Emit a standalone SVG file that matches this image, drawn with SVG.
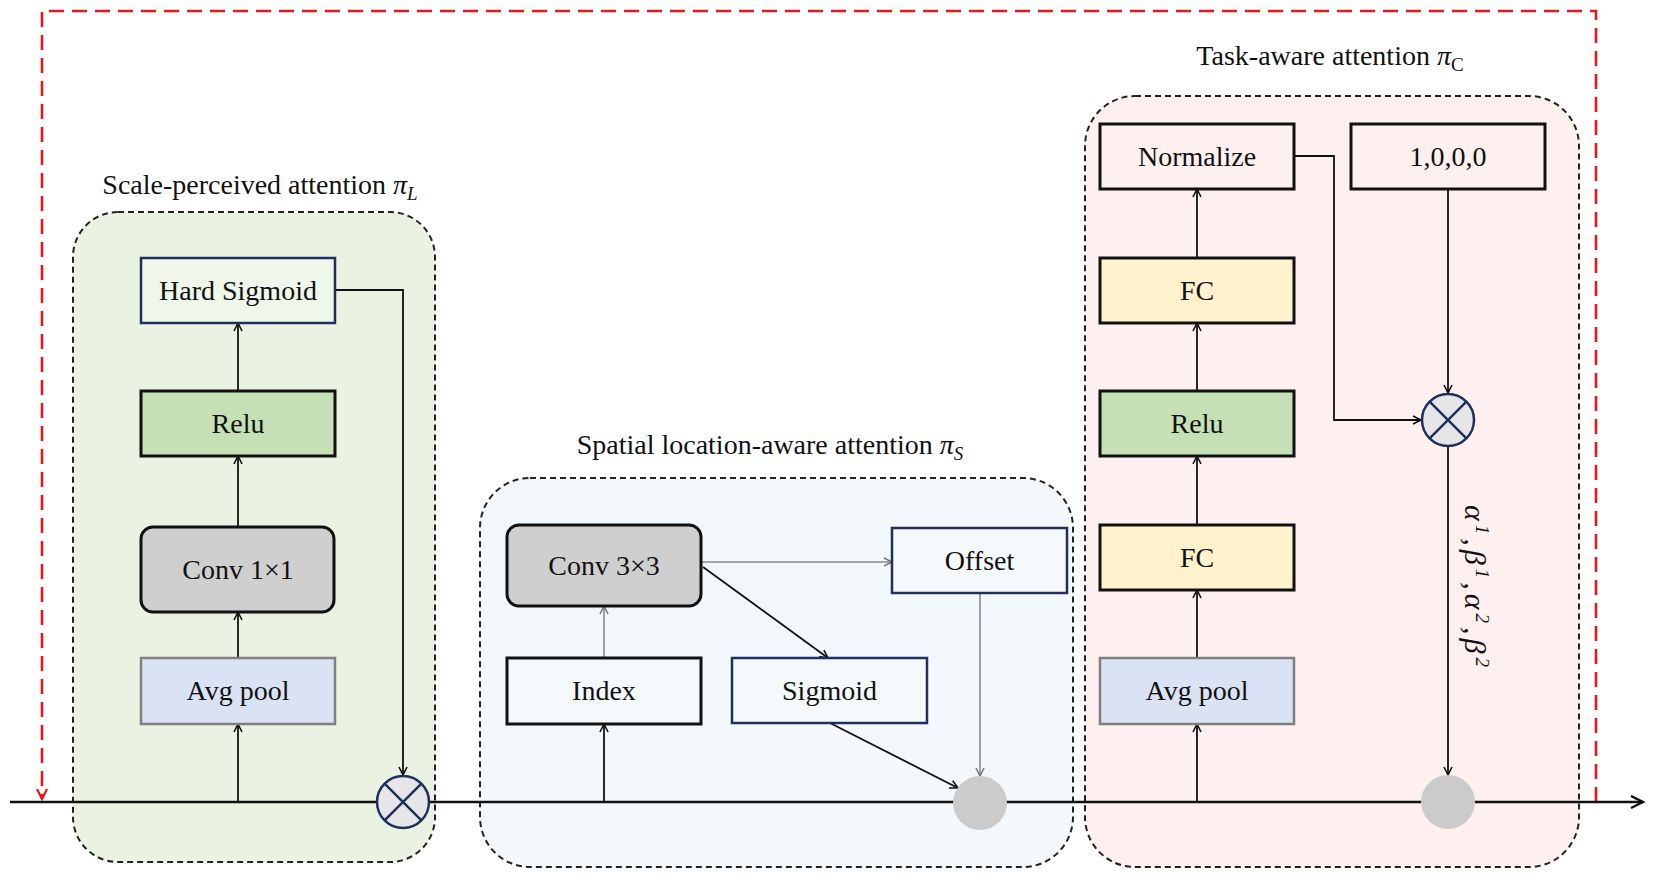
<svg xmlns="http://www.w3.org/2000/svg" width="1654" height="878" viewBox="0 0 1654 878">
<style>
  .grp { stroke:#222; stroke-width:2; stroke-dasharray:6 4; }
  .box { stroke:#111; stroke-width:3; }
  .navy { stroke:#1f2f5e; stroke-width:2.5; }
  .lbl { font-family:"Liberation Serif","Times New Roman",serif; font-size:28px; fill:#111; text-anchor:middle; }
  .title { font-family:"Liberation Serif","Times New Roman",serif; font-size:28px; fill:#111; text-anchor:middle; }
  .ln { fill:none; stroke:#111; stroke-width:1.8; }
  .thin { fill:none; stroke:#8a8a8a; stroke-width:1.6; }
  .otimes { fill:#e6e6e8; stroke:#1f2f5e; stroke-width:2.5; }
  .dot { fill:#cbcbcb; }
</style>
<defs>
  <marker id="arr" markerUnits="userSpaceOnUse" markerWidth="12" markerHeight="12" refX="9" refY="5" orient="auto"><path d="M1,1 L9,5 L1,9" fill="none" stroke="#111" stroke-width="1.6"/></marker>
  <marker id="arrg" markerUnits="userSpaceOnUse" markerWidth="12" markerHeight="12" refX="9" refY="5" orient="auto"><path d="M1,1 L9,5 L1,9" fill="none" stroke="#777" stroke-width="1.5"/></marker>
  <marker id="arrr" markerUnits="userSpaceOnUse" markerWidth="14" markerHeight="14" refX="11" refY="6" orient="auto"><path d="M1,1 L11,6 L1,11" fill="none" stroke="#e8161d" stroke-width="2.2"/></marker>
  <marker id="arrm" markerUnits="userSpaceOnUse" markerWidth="16" markerHeight="16" refX="13" refY="7" orient="auto"><path d="M1,1 L13,7 L1,13" fill="none" stroke="#111" stroke-width="2.4"/></marker>
</defs>
<rect width="1654" height="878" fill="#ffffff"/>

<!-- group backgrounds -->
<g id="group-scale">
  <rect class="grp" x="73" y="212" width="362" height="650" rx="45" fill="#eaf3e2"/>
  <text class="title" x="260" y="194">Scale-perceived attention <tspan font-style="italic">π</tspan><tspan font-style="italic" font-size="19" dy="6">L</tspan></text>
</g>
<g id="group-spatial">
  <rect class="grp" x="480" y="478" width="593" height="389" rx="50" fill="#f3f8fc"/>
  <text class="title" x="770" y="454">Spatial location-aware attention <tspan font-style="italic">π</tspan><tspan font-style="italic" font-size="19" dy="6">S</tspan></text>
</g>
<g id="group-task">
  <rect class="grp" x="1085" y="96" width="494" height="771" rx="50" fill="#fdf0ef"/>
  <text class="title" x="1330" y="65">Task-aware attention <tspan font-style="italic">π</tspan><tspan font-size="19" dy="6">C</tspan></text>
</g>

<!-- connectors -->
<g id="connectors">
  <path d="M1596,802 V11 H42 V799" fill="none" stroke="#e8161d" stroke-width="2.6" stroke-dasharray="15 8" marker-end="url(#arrr)"/>
  <path d="M10,802 H1643" fill="none" stroke="#111" stroke-width="2.6" marker-end="url(#arrm)"/>
  <path class="ln" d="M238,802 V724" marker-end="url(#arr)"/>
  <path class="ln" d="M238,658 V612" marker-end="url(#arr)"/>
  <path class="ln" d="M238,527 V456" marker-end="url(#arr)"/>
  <path class="ln" d="M238,391 V323" marker-end="url(#arr)"/>
  <path class="ln" d="M335,290 H403 V775" marker-end="url(#arr)"/>
  <path class="ln" d="M604,802 V724" marker-end="url(#arr)"/>
  <path class="thin" d="M604,658 V606" marker-end="url(#arrg)"/>
  <path class="thin" d="M702,562 H892" marker-end="url(#arrg)"/>
  <path class="ln" d="M703,567 L828,658" marker-end="url(#arr)"/>
  <path class="ln" d="M830,723 L958,788" marker-end="url(#arr)"/>
  <path class="thin" d="M980,593 V776" marker-end="url(#arrg)"/>
  <path class="ln" d="M1197,802 V724" marker-end="url(#arr)"/>
  <path class="ln" d="M1197,658 V590" marker-end="url(#arr)"/>
  <path class="ln" d="M1197,525 V456" marker-end="url(#arr)"/>
  <path class="ln" d="M1197,391 V323" marker-end="url(#arr)"/>
  <path class="ln" d="M1197,258 V189" marker-end="url(#arr)"/>
  <path class="ln" d="M1294,156 H1334 V420 H1421" marker-end="url(#arr)"/>
  <path class="ln" d="M1448,189 V393" marker-end="url(#arr)"/>
  <path class="ln" d="M1448,447 V775" marker-end="url(#arr)"/>
</g>

<!-- scale-perceived nodes -->
<g id="hard-sigmoid">
  <rect class="navy" x="141" y="258" width="194" height="65" fill="#eff6ea"/>
  <text class="lbl" x="238" y="300">Hard Sigmoid</text>
</g>
<g id="relu-l">
  <rect class="box" x="141" y="391" width="194" height="65" fill="#c5e0b4"/>
  <text class="lbl" x="238" y="433">Relu</text>
</g>
<g id="conv1x1">
  <rect class="box" x="141" y="527" width="193" height="85" rx="12" fill="#d0cfcf"/>
  <text class="lbl" x="238" y="579">Conv 1×1</text>
</g>
<g id="avgpool-l">
  <rect x="141" y="658" width="194" height="66" fill="#dae3f3" stroke="#7f7f7f" stroke-width="2.5"/>
  <text class="lbl" x="238" y="700">Avg pool</text>
</g>
<g id="mul-l">
  <circle class="otimes" cx="403" cy="802" r="26"/>
  <path d="M384.6,783.6 L421.4,820.4 M421.4,783.6 L384.6,820.4" stroke="#1f2f5e" stroke-width="2.5"/>
</g>

<!-- spatial nodes -->
<g id="conv3x3">
  <rect class="box" x="507" y="525" width="194" height="81" rx="12" fill="#d0cfcf"/>
  <text class="lbl" x="604" y="575">Conv 3×3</text>
</g>
<g id="index">
  <rect class="box" x="507" y="658" width="194" height="66" fill="#f6f9fc"/>
  <text class="lbl" x="604" y="700">Index</text>
</g>
<g id="sigmoid">
  <rect class="navy" x="732" y="658" width="195" height="65" fill="#f6f9fc"/>
  <text class="lbl" x="829.5" y="700">Sigmoid</text>
</g>
<g id="offset">
  <rect class="navy" x="892" y="528" width="175" height="65" fill="#f6f9fc"/>
  <text class="lbl" x="979.5" y="570">Offset</text>
</g>
<g id="merge-s">
  <circle class="dot" cx="980" cy="803" r="27"/>
</g>

<!-- task-aware nodes -->
<g id="normalize">
  <rect class="box" x="1100" y="124" width="194" height="65" fill="#fdf0ef"/>
  <text class="lbl" x="1197" y="166">Normalize</text>
</g>
<g id="init">
  <rect class="box" x="1351" y="124" width="194" height="65" fill="#fdf0ef"/>
  <text class="lbl" x="1448" y="166">1,0,0,0</text>
</g>
<g id="fc-top">
  <rect class="box" x="1100" y="258" width="194" height="65" fill="#fff2cc"/>
  <text class="lbl" x="1197" y="300">FC</text>
</g>
<g id="relu-r">
  <rect class="box" x="1100" y="391" width="194" height="65" fill="#c5e0b4"/>
  <text class="lbl" x="1197" y="433">Relu</text>
</g>
<g id="fc-bottom">
  <rect class="box" x="1100" y="525" width="194" height="65" fill="#fff2cc"/>
  <text class="lbl" x="1197" y="567">FC</text>
</g>
<g id="avgpool-r">
  <rect x="1100" y="658" width="194" height="66" fill="#dae3f3" stroke="#7f7f7f" stroke-width="2.5"/>
  <text class="lbl" x="1197" y="700">Avg pool</text>
</g>
<g id="mul-r">
  <circle class="otimes" cx="1448" cy="420" r="26"/>
  <path d="M1429.6,401.6 L1466.4,438.4 M1466.4,401.6 L1429.6,438.4" stroke="#1f2f5e" stroke-width="2.5"/>
</g>
<g id="merge-c">
  <circle class="dot" cx="1448" cy="802" r="27"/>
</g>
<g id="coef-label">
  <text transform="translate(1465,588) rotate(90)" font-family="'Liberation Serif','Times New Roman',serif" font-size="30" font-style="italic" fill="#111" text-anchor="middle" letter-spacing="4">α<tspan font-size="19" dy="-11">1</tspan><tspan dy="11">,β</tspan><tspan font-size="19" dy="-11">1</tspan><tspan dy="11">,α</tspan><tspan font-size="19" dy="-11">2</tspan><tspan dy="11">,β</tspan><tspan font-size="19" dy="-11">2</tspan></text>
</g>
</svg>
